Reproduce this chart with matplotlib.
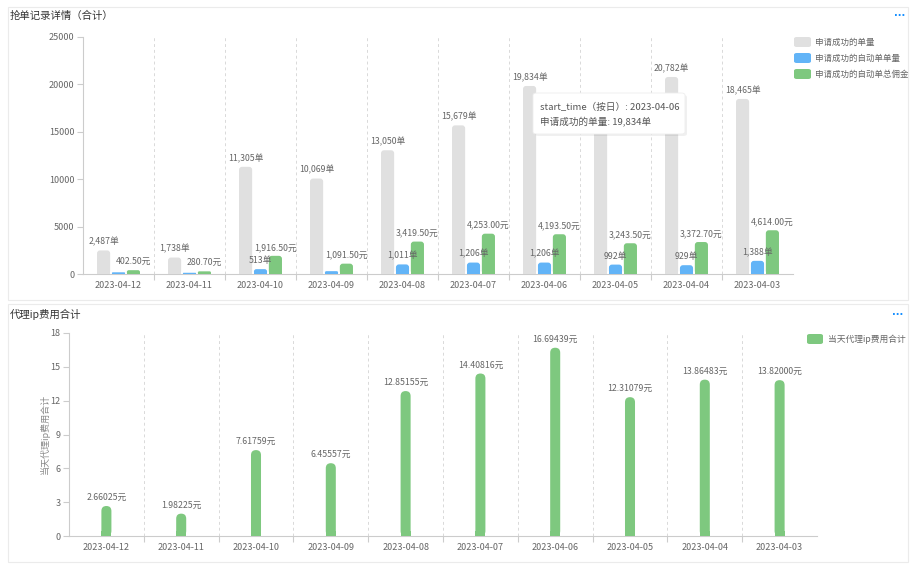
import matplotlib
matplotlib.use("Agg")
import matplotlib.pyplot as plt
from matplotlib.patches import FancyBboxPatch, Rectangle

plt.rcParams['font.family'] = ['Noto Sans CJK SC', 'DejaVu Sans']

# ---- data ----
dates = ['2023-04-12', '2023-04-11', '2023-04-10', '2023-04-09', '2023-04-08',
         '2023-04-07', '2023-04-06', '2023-04-05', '2023-04-04', '2023-04-03']
orders = [2487, 1738, 11305, 10069, 13050, 15679, 19834, 16300, 20782, 18465]
orders_show = [True, True, True, True, True, True, True, False, True, True]  # 04-05 label under tooltip
auto_orders = [180, 130, 513, 300, 1011, 1206, 1206, 992, 929, 1388]
auto_show = [False, False, True, False, True, True, True, True, True, True]
commission = [402.50, 280.70, 1916.50, 1091.50, 3419.50, 4253.00, 4193.50, 3243.50, 3372.70, 4614.00]
ip_cost = [2.66025, 1.98225, 7.61759, 6.45557, 12.85155, 14.40816, 16.69439, 12.31079, 13.86483, 13.82000]

series_names = ['申请成功的单量', '申请成功的自动单单量', '申请成功的自动单总佣金']
ip_name = '当天代理ip费用合计'
top_yticks = [0, 5000, 10000, 15000, 20000, 25000]
bot_yticks = [0, 3, 6, 9, 12, 15, 18]

C_GRAY = '#e0e0e0'
C_BLUE = '#62b4f7'
C_GREEN = '#7ec87f'
TXT = '#666666'
AXC = '#cccccc'

W, H = 914, 569
fig = plt.figure(figsize=(W / 100, H / 100), dpi=100)


def fx(x):
    return x / W


def fy(y):
    return 1 - y / H


def add_axes_px(x0, y_top, x1, y_bot):
    return fig.add_axes([fx(x0), fy(y_bot), (x1 - x0) / W, (y_bot - y_top) / H])


# panel frames (behind the axes)
for (x0, y0, x1, y1) in [(8, 7, 908, 300), (8, 304, 908, 562)]:
    fig.patches.append(Rectangle((fx(x0), fy(y1)), (x1 - x0) / W, (y1 - y0) / H,
                                 transform=fig.transFigure, fc='white', ec='#ebebeb',
                                 lw=0.8, zorder=-5))


def rbar(ax, x, h, w, color, r_px, dx, dy):
    # rounded-top bar; dx, dy = data units per pixel
    if h <= 0:
        return
    asp = dy / dx
    r = min(r_px * dx, w / 2, h / asp / 2)
    ax.add_patch(FancyBboxPatch((x - w / 2, 0), w, h,
                                boxstyle=f"round,pad=0,rounding_size={r}",
                                mutation_aspect=asp, fc=color, ec='none', zorder=3))
    ax.add_patch(Rectangle((x - w / 2, 0), w, min(h, r * asp), fc=color, ec='none', zorder=3))


def style_axes(ax, n, ymax, yticks):
    ax.set_xlim(-0.5, n - 0.5)
    ax.set_ylim(0, ymax)
    for s in ['top', 'right']:
        ax.spines[s].set_visible(False)
    for s in ['left', 'bottom']:
        ax.spines[s].set_color(AXC)
        ax.spines[s].set_linewidth(0.8)
    ax.set_yticks(yticks)
    ax.set_yticklabels([str(v) for v in yticks])
    ax.set_xticks(range(n))
    ax.set_xticklabels(dates)
    ax.tick_params(axis='x', length=0, pad=5, labelsize=6.5, colors=TXT)
    ax.tick_params(axis='y', length=4, width=0.8, color=AXC, pad=2, labelsize=6.5, labelcolor=TXT)
    ax.set_xticks([i + 0.5 for i in range(n - 1)], minor=True)
    ax.tick_params(axis='x', which='minor', length=4, width=0.8, color=AXC)
    for i in range(n):
        ax.axvline(i + 0.5, color='#d9d9d9', lw=0.7, ls=(0, (3, 3)), zorder=1)
    ax.patch.set_alpha(0)


# ---- top chart ----
ax1 = add_axes_px(83, 37, 793, 274)
n = len(dates)
style_axes(ax1, n, 25000, top_yticks)
dx1 = n / 710
dy1 = 25000 / 237
bw = 0.185
off = 0.21
for i in range(n):
    rbar(ax1, i - off, orders[i], bw, C_GRAY, 3, dx1, dy1)
    rbar(ax1, i, auto_orders[i], bw, C_BLUE, 3, dx1, dy1)
    rbar(ax1, i + off, commission[i], bw, C_GREEN, 3, dx1, dy1)
    if orders_show[i]:
        ax1.annotate(f"{orders[i]:,}单", (i - off, orders[i]), xytext=(0, 4),
                     textcoords='offset pixels', ha='center', va='bottom', fontsize=6.3, color=TXT)
    if auto_show[i]:
        ax1.annotate(f"{auto_orders[i]:,}单", (i, auto_orders[i]), xytext=(0, 4),
                     textcoords='offset pixels', ha='center', va='bottom', fontsize=6.3, color=TXT)
    ax1.annotate(f"{commission[i]:,.2f}元", (i + off, commission[i]), xytext=(0, 4),
                 textcoords='offset pixels', ha='center', va='bottom', fontsize=6.3, color=TXT)

# top legend
for k, (name, c) in enumerate(zip(series_names, [C_GRAY, C_BLUE, C_GREEN])):
    yc = 42 + 16 * k
    fig.patches.append(FancyBboxPatch((fx(794), fy(yc + 5)), 17 / W, 10 / H,
                                      boxstyle="round,pad=0,rounding_size=0.003",
                                      transform=fig.transFigure, fc=c, ec='none'))
    fig.text(fx(815), fy(yc), name, fontsize=6.1, color=TXT, va='center', ha='left')

fig.text(fx(10), fy(16), '抢单记录详情（合计）', fontsize=7.5, color='#333333', va='center', ha='left')
fig.text(fx(900), fy(16), '···', fontsize=7, fontweight='bold', color='#1890ff',
         va='center', ha='center', family='DejaVu Sans')

# tooltip
fig.patches.append(FancyBboxPatch((fx(535), fy(136)), 152 / W, 41 / H,
                                  boxstyle="round,pad=0,rounding_size=0.004",
                                  transform=fig.transFigure, fc='#000000', alpha=0.06,
                                  ec='none', zorder=9))
fig.patches.append(FancyBboxPatch((fx(533), fy(134)), 152 / W, 41 / H,
                                  boxstyle="round,pad=0,rounding_size=0.004",
                                  transform=fig.transFigure, fc='white', ec='#eeeeee',
                                  lw=0.6, zorder=10))
fig.text(fx(540), fy(107), 'start_time（按日）: ' + dates[6], fontsize=6.9,
         color='#555555', va='center', ha='left', zorder=11)
fig.text(fx(540), fy(122), f"{series_names[0]}: {orders[6]:,}单", fontsize=6.9,
         color='#555555', va='center', ha='left', zorder=11)

# ---- bottom chart ----
ax2 = add_axes_px(69, 333, 817, 536)
style_axes(ax2, n, 18, bot_yticks)
dx2 = n / 748
dy2 = 18 / 203
for i in range(n):
    rbar(ax2, i, ip_cost[i], 0.134, C_GREEN, 5, dx2, dy2)
    ax2.annotate(f"{ip_cost[i]:.5f}元", (i, ip_cost[i]), xytext=(0, 4),
                 textcoords='offset pixels', ha='center', va='bottom', fontsize=6.3, color=TXT)

fig.text(fx(45), fy(434), ip_name, fontsize=6.5, color='#888888', rotation=90,
         va='center', ha='center')
fig.patches.append(FancyBboxPatch((fx(807), fy(344)), 16 / W, 10 / H,
                                  boxstyle="round,pad=0,rounding_size=0.003",
                                  transform=fig.transFigure, fc=C_GREEN, ec='none'))
fig.text(fx(828), fy(339), ip_name, fontsize=6.3, color=TXT, va='center', ha='left')
fig.text(fx(10), fy(314), '代理ip费用合计', fontsize=7.5, color='#333333', va='center', ha='left')
fig.text(fx(898), fy(315), '···', fontsize=7, fontweight='bold', color='#1890ff',
         va='center', ha='center', family='DejaVu Sans')

fig.savefig('out.png', dpi=100, facecolor='white')
